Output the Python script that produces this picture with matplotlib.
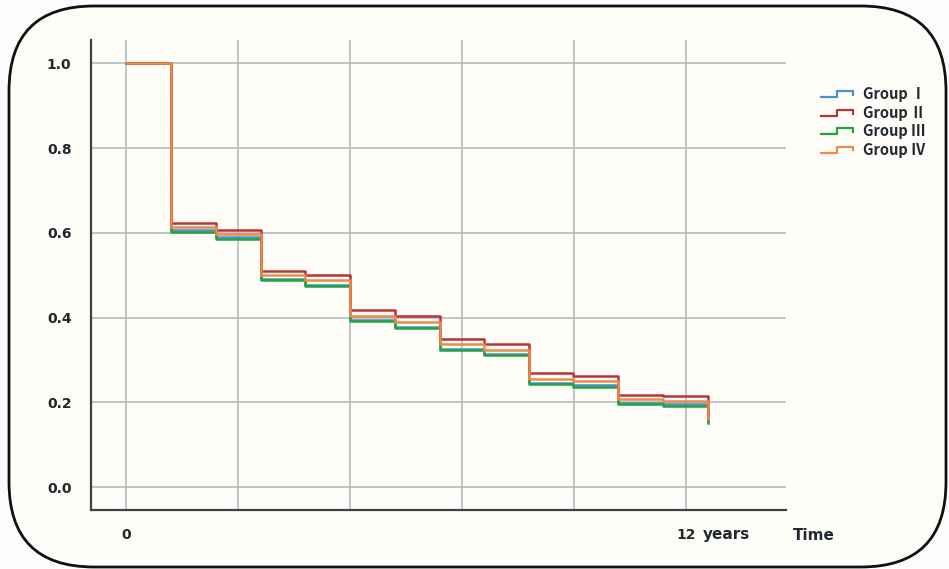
import matplotlib
matplotlib.use("Agg")
import matplotlib.pyplot as plt
from matplotlib.lines import Line2D
from matplotlib.patches import FancyBboxPatch
from matplotlib.legend_handler import HandlerBase

# ---- data ----
times = [0, 0.96, 1.93, 2.89, 3.84, 4.8, 5.76, 6.73, 7.67, 8.64, 9.58, 10.54, 11.5, 12.47]
group_I = [1.0, 0.606, 0.589, 0.492, 0.478, 0.394, 0.378, 0.327, 0.314, 0.246, 0.240, 0.199, 0.195, 0.155]
group_II = [1.0, 0.623, 0.607, 0.511, 0.500, 0.417, 0.403, 0.349, 0.337, 0.269, 0.263, 0.218, 0.215, 0.168]
group_III = [1.0, 0.603, 0.586, 0.489, 0.475, 0.391, 0.375, 0.324, 0.311, 0.243, 0.237, 0.196, 0.192, 0.152]
group_IV = [1.0, 0.613, 0.597, 0.500, 0.488, 0.404, 0.389, 0.337, 0.324, 0.256, 0.250, 0.207, 0.203, 0.160]
labels = ["Group Ⅰ", "Group Ⅱ", "Group Ⅲ", "Group Ⅳ"]
colors = ["#4a8fd6", "#b83438", "#22a33c", "#f08848"]
yticks = [0.0, 0.2, 0.4, 0.6, 0.8, 1.0]
ytick_labels = ["0.0", "0.2", "0.4", "0.6", "0.8", "1.0"]
xgrid = [0, 2.4, 4.8, 7.2, 9.6, 12]
xticks = [0, 12]
xtick_labels = ["0", "12"]

W, H = 949, 569
fig = plt.figure(figsize=(W / 100, H / 100), dpi=100, facecolor="#fbfcfd")

# rounded frame (in inches so corners stay circular)
frame = FancyBboxPatch((9 / 100, 2 / 100), 937 / 100, 561 / 100,
                       boxstyle="round,pad=0,rounding_size=0.85",
                       transform=fig.dpi_scale_trans, facecolor="#fefdf8",
                       edgecolor="#111111", linewidth=2.0, zorder=-10)
fig.patches.append(frame)

ax = fig.add_axes([91 / W, 1 - 510 / H, (786 - 91) / W, (510 - 40) / H])
ax.set_facecolor("none")
ax.set_zorder(1)
ax.set_xlim(-0.75, 14.14)
ax.set_ylim(-0.054, 1.055)

gcol = "#b2bdc3"
for y in yticks:
    ax.axhline(y, color=gcol, lw=1.2, zorder=1)
for x in xgrid:
    ax.axvline(x, color=gcol, lw=1.2, zorder=1)

series = [group_I, group_III, group_II, group_IV]
order_labels = [labels[0], labels[2], labels[1], labels[3]]
order_colors = [colors[0], colors[2], colors[1], colors[3]]
handles = {}
for s, lab, c in zip(series, order_labels, order_colors):
    ln, = ax.plot(times, s, drawstyle="steps-post", color=c, lw=1.8, label=lab, zorder=3)
    handles[lab] = ln

for side in ["top", "right"]:
    ax.spines[side].set_visible(False)
for side in ["left", "bottom"]:
    ax.spines[side].set_color("#3a4448")
    ax.spines[side].set_linewidth(1.6)

ax.set_yticks(yticks)
ax.set_yticklabels(ytick_labels)
ax.set_xticks(xticks)
ax.set_xticklabels(xtick_labels)
ax.tick_params(axis="both", length=0, labelsize=10, labelcolor="#1e2a30")
ax.tick_params(axis="y", pad=14)
ax.tick_params(axis="x", pad=13)
for t in ax.get_xticklabels() + ax.get_yticklabels():
    t.set_fontweight("bold")

fig.text(703 / W, 1 - 535 / H, "years", fontsize=11,
         fontweight="bold", color="#1e2a30", ha="left", va="center")
fig.text(793 / W, 1 - 535 / H, "Time", fontsize=11,
         fontweight="bold", color="#1e2a30", ha="left", va="center")


class StepHandler(HandlerBase):
    def create_artists(self, legend, orig_handle, xdescent, ydescent, width, height, fontsize, trans):
        x0, y0 = -xdescent, -ydescent
        xs = [x0, x0 + 0.5 * width, x0 + 0.5 * width, x0 + width, x0 + width]
        ys = [y0 + 0.2 * height, y0 + 0.2 * height, y0 + 0.75 * height, y0 + 0.75 * height, y0 + 0.4 * height]
        line = Line2D(xs, ys, color=orig_handle.get_color(), lw=1.6)
        line.set_transform(trans)
        return [line]


leg_handles = [handles[l] for l in labels]
leg = fig.legend(leg_handles, labels, loc="upper left", bbox_to_anchor=(808 / W, 1 - 73 / H),
                 frameon=False, handlelength=2.2, handletextpad=0.68, labelspacing=0.17,
                 handler_map={Line2D: StepHandler()},
                 prop={"family": ["Noto Sans CJK SC", "DejaVu Sans"], "weight": "bold", "size": 10.5})
for t in leg.get_texts():
    t.set_color("#1e2a30")

fig.savefig("out.png", dpi=100, facecolor=fig.get_facecolor())
